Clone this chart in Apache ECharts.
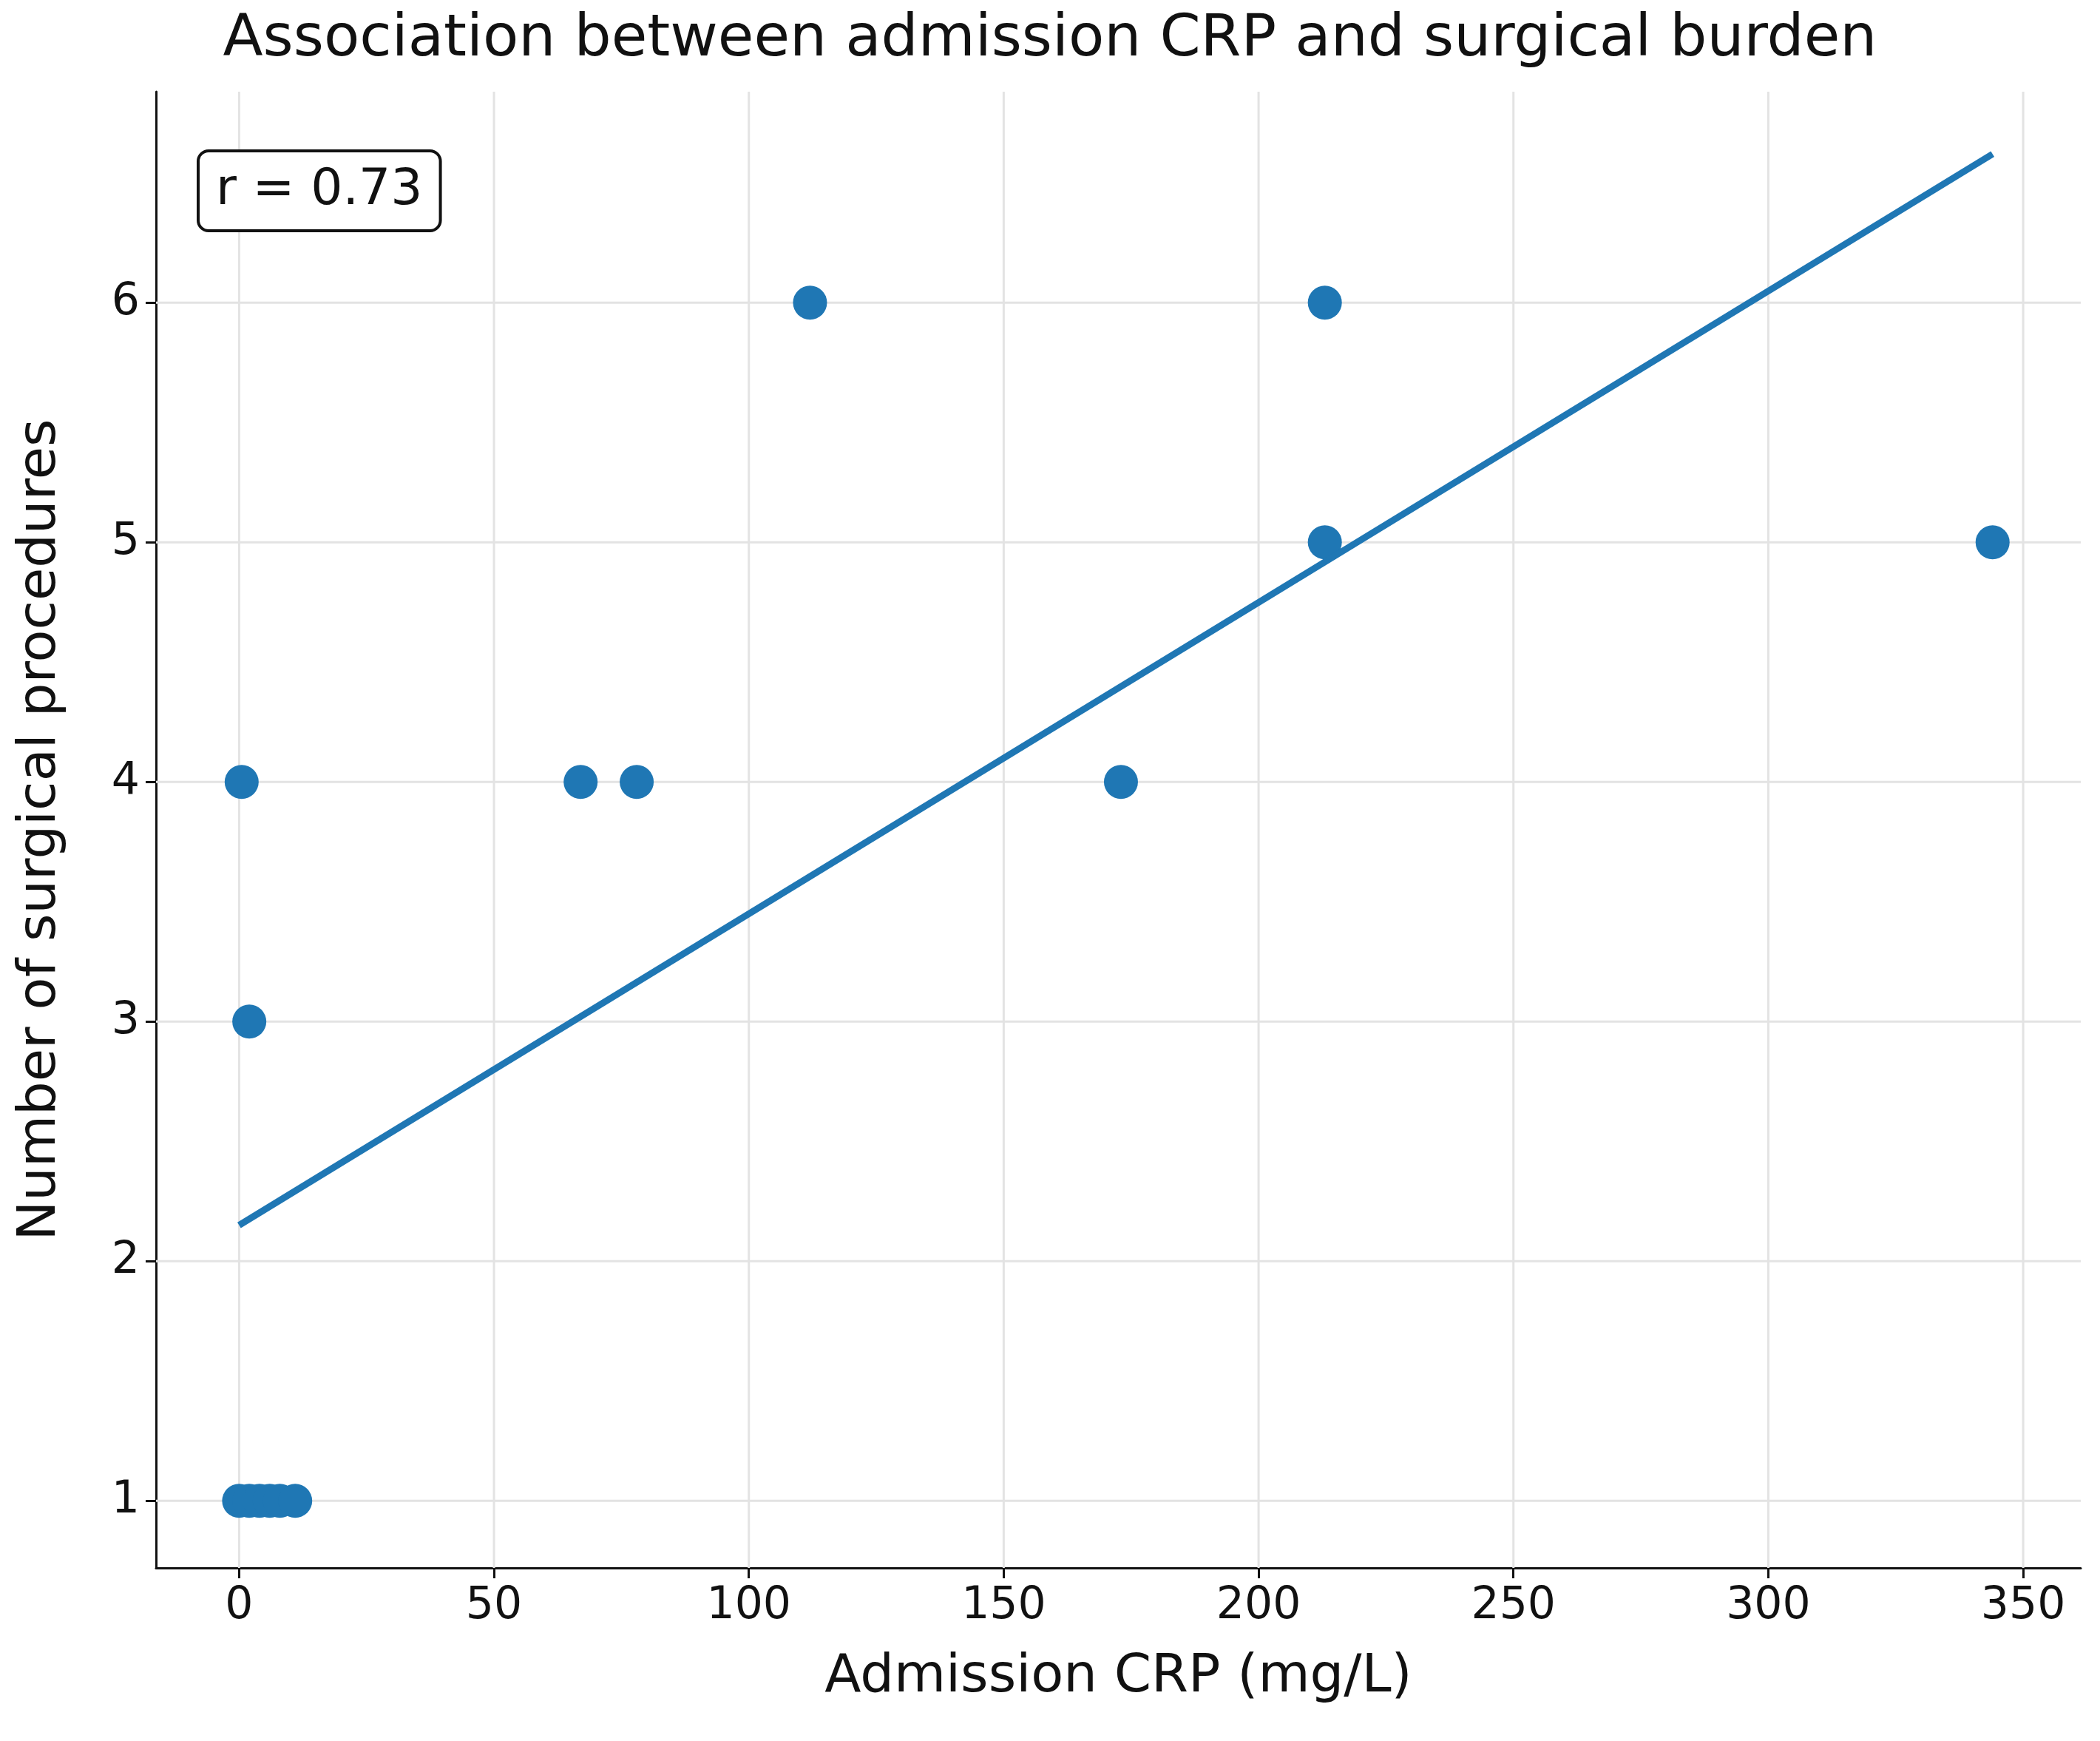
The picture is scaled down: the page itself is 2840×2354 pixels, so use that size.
<!DOCTYPE html>
<html><head><meta charset="utf-8">
<script src="https://cdn.jsdelivr.net/npm/echarts@6/dist/echarts.min.js"></script>
<style>html,body{margin:0;background:#fff}#c{width:2840px;height:2354px}</style>
</head><body><div id="c"></div>
<script>
const crp = [0, 2, 4, 6, 8, 11, 0.5, 2, 67, 78, 112, 173, 213, 213, 344];
const procedures = [1, 1, 1, 1, 1, 1, 4, 3, 4, 4, 6, 4, 6, 5, 5];
const fitLine = [[0, 2.15], [344, 6.62]];
const xTicks = [0, 50, 100, 150, 200, 250, 300, 350];
const yTicks = [1, 2, 3, 4, 5, 6];
const font = 'DejaVu Sans';
const chart = echarts.init(document.getElementById('c'));
chart.setOption({
  animation: false,
  title: {text: 'Association between admission CRP and surgical burden', left: 'center', top: 10,
    textStyle: {fontFamily: font, fontSize: 79, fontWeight: 'normal', color: '#111'}},
  grid: {left: 211, right: 26, top: 124, bottom: 234},
  xAxis: {type: 'value', min: -16.3, max: 361.3,
    name: 'Admission CRP (mg/L)', nameLocation: 'middle', nameGap: 112,
    nameTextStyle: {fontFamily: font, fontSize: 72, color: '#111'},
    axisLine: {show: true, onZero: false, lineStyle: {color: '#111', width: 3}},
    axisTick: {show: true, length: 14, lineStyle: {color: '#111', width: 3}, customValues: xTicks},
    axisLabel: {fontFamily: font, fontSize: 60, color: '#111', margin: 22, customValues: xTicks},
    splitLine: {show: false}},
  yAxis: {type: 'value', min: 0.72, max: 6.88,
    name: 'Number of surgical procedures', nameLocation: 'middle', nameGap: 120,
    nameTextStyle: {fontFamily: font, fontSize: 72, color: '#111'},
    axisLine: {show: true, onZero: false, lineStyle: {color: '#111', width: 3}},
    axisTick: {show: true, length: 14, lineStyle: {color: '#111', width: 3}, customValues: yTicks},
    axisLabel: {fontFamily: font, fontSize: 60, color: '#111', margin: 22, customValues: yTicks},
    splitLine: {show: false}},
  series: [
    {type: 'line', data: xTicks.flatMap(v => [[v, 0.72], [v, 6.88], null]).slice(0, -1),
      connectNulls: false, showSymbol: false, silent: true, z: 0,
      lineStyle: {color: '#e3e3e3', width: 3}},
    {type: 'line', data: yTicks.flatMap(v => [[-16.3, v], [361.3, v], null]).slice(0, -1),
      connectNulls: false, showSymbol: false, silent: true, z: 0,
      lineStyle: {color: '#e3e3e3', width: 3}},
    {type: 'scatter', data: crp.map((x, i) => [x, procedures[i]]), symbolSize: 46,
      itemStyle: {color: '#1f77b4', opacity: 1}, z: 3},
    {type: 'line', data: fitLine, showSymbol: false, lineStyle: {color: '#1f77b4', width: 9}, z: 4}
  ],
  graphic: [{type: 'text', left: 266, top: 202, z: 10,
    style: {text: 'r = 0.73', fontFamily: font, fontSize: 68, fill: '#111',
      backgroundColor: '#fff', borderColor: '#111', borderWidth: 4, borderRadius: 12,
      padding: [18, 22, 18, 22]}}]
});
</script></body></html>
